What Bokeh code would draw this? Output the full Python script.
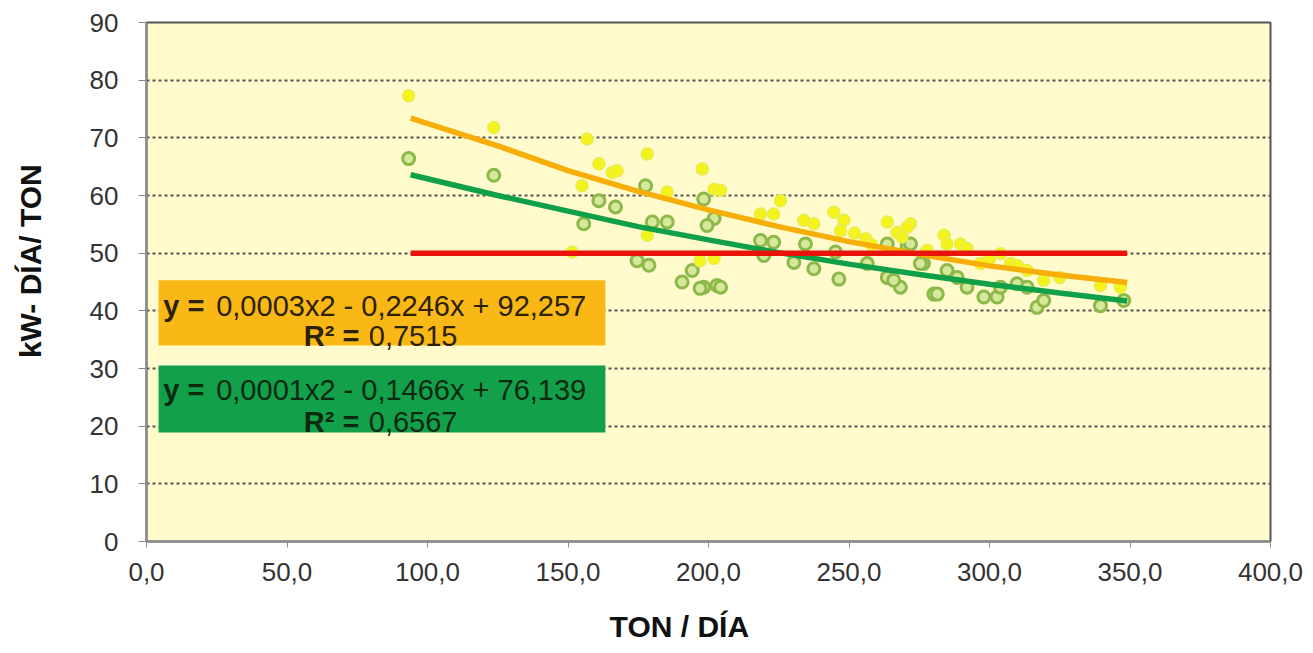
from bokeh.plotting import figure
from bokeh.models import BoxAnnotation, Label, FixedTicker, Range1d
from bokeh.embed import file_html
from bokeh.resources import INLINE

# ---------------- data ----------------
yellow_x = [93.3, 123.6, 156.8, 178.2, 161.0, 165.7, 167.5, 155.0, 197.8, 185.3,
            202.0, 178.2, 197.0, 202.0, 151.5, 204.3, 225.6, 218.5, 223.2, 233.9,
            237.5, 244.6, 248.2, 247.0, 252.0, 256.0, 258.0, 263.6, 267.1, 271.9,
            268.9, 270.7, 283.8, 289.7, 296.8, 307.5, 313.4, 319.3, 339.5, 346.6,
            277.8, 284.9, 304.0, 292.0, 300.0, 310.0, 325.0]
yellow_y = [77.3, 71.8, 69.8, 67.2, 65.5, 64.0, 64.3, 61.7, 64.6, 60.6,
            61.1, 53.1, 48.7, 49.1, 50.2, 60.9, 59.1, 56.8, 56.8, 55.7,
            55.1, 57.1, 55.7, 53.9, 53.5, 52.5, 51.5, 55.4, 53.6, 55.1,
            52.8, 54.5, 53.1, 51.6, 48.2, 48.2, 47.0, 45.3, 44.4, 44.1,
            50.5, 51.6, 49.9, 50.8, 49.0, 47.8, 45.8]

green_x = [93.3, 123.6, 177.6, 161.0, 166.9, 155.6, 180.0, 185.3, 198.3, 202.0,
           199.5, 174.6, 178.8, 194.2, 190.6, 198.3, 203.0, 197.0, 204.3, 218.5,
           223.2, 219.7, 234.5, 230.4, 237.5, 246.4, 245.2, 256.5, 263.6, 270.7,
           263.6, 268.3, 265.9, 280.2, 276.5, 271.9, 281.4, 275.4, 284.9, 292.0,
           298.0, 302.7, 303.9, 309.8, 316.9, 319.3, 339.5, 347.8, 288.5, 313.4]
green_y = [66.4, 63.5, 61.7, 59.1, 58.0, 55.1, 55.4, 55.4, 59.4, 56.0,
           54.8, 48.7, 47.9, 47.0, 45.0, 44.1, 44.4, 43.9, 44.1, 52.2,
           51.9, 49.6, 51.6, 48.4, 47.3, 45.5, 50.2, 48.2, 51.6, 51.3,
           45.8, 44.1, 45.3, 42.9, 48.2, 51.6, 42.9, 48.2, 47.0, 44.1,
           42.4, 42.4, 44.1, 44.7, 40.6, 41.8, 40.9, 41.8, 45.8, 44.1]

# trend lines
trend_x = [94, 125, 150, 175, 200, 225, 250, 275, 300, 325, 349]
orange_trend_y = [73.4, 68.6, 64.3, 60.7, 57.5, 54.6, 52.0, 49.8, 47.8, 46.2, 44.9]
green_trend_y = [63.6, 60.0, 57.3, 54.6, 52.3, 50.1, 48.1, 46.3, 44.6, 43.1, 41.7]

limit_x = [94, 349]
limit_y = [50, 50]

x_ticks = [0, 50, 100, 150, 200, 250, 300, 350, 400]
x_tick_labels = ["0,0", "50,0", "100,0", "150,0", "200,0", "250,0", "300,0", "350,0", "400,0"]
y_ticks = [0, 10, 20, 30, 40, 50, 60, 70, 80, 90]

orange_eq = ("y =", "0,0003x2 - 0,2246x + 92,257", "R² =", "0,7515")
green_eq = ("y =", "0,0001x2 - 0,1466x + 76,139", "R² =", "0,6567")

x_title = "TON / DÍA"
y_title = "kW- DÍA/ TON"

# ---------------- figure ----------------
FONT = "Liberation Sans"
W, H = 1305, 653
p = figure(width=W, height=H, output_backend="svg", toolbar_location=None,
           x_range=Range1d(0, 400), y_range=Range1d(0, 90))
p.min_border_left = 146
p.min_border_right = W - 1270
p.min_border_top = 22
p.min_border_bottom = H - 541
p.background_fill_color = "#FFFBCD"
p.border_fill_color = "white"
p.outline_line_color = "#555555"
p.outline_line_width = 2

p.xgrid.visible = False
p.ygrid.grid_line_color = "#555555"
p.ygrid.grid_line_width = 2
p.ygrid.grid_line_dash = "3 3"

p.xaxis.ticker = FixedTicker(ticks=x_ticks)
p.xaxis.major_label_overrides = {t: l for t, l in zip(x_ticks, x_tick_labels)}
p.yaxis.ticker = FixedTicker(ticks=y_ticks)
p.yaxis.major_label_overrides = {t: str(t) for t in y_ticks}
for ax in (p.xaxis[0], p.yaxis[0]):
    ax.axis_line_color = "#8a8a8a"
    ax.axis_line_width = 2
    ax.major_tick_line_color = "#8a8a8a"
    ax.major_tick_line_width = 1
    ax.major_tick_in = 0
    ax.minor_tick_line_color = None
    ax.major_label_text_font = FONT
    ax.major_label_text_font_size = "26px"
    ax.major_label_text_color = "#333333"
    ax.axis_label_text_font = FONT
    ax.axis_label_text_font_size = "30px"
    ax.axis_label_text_font_style = "bold"
    ax.axis_label_text_color = "#111111"
p.xaxis.major_tick_out = 6
p.xaxis.major_label_standoff = 15
p.yaxis.major_tick_out = 8
p.yaxis.major_label_standoff = 20

# axis titles (non-breaking spaces shift the centred title like in the original)
NBSP = "\u00a0"
p.xaxis.axis_label = x_title + NBSP * 7
p.xaxis.axis_label_standoff = 26
p.yaxis.axis_label = NBSP * 5 + y_title
p.yaxis.axis_label_standoff = 40

# scatter
p.scatter(green_x, green_y, size=12, marker="circle", fill_color="#D6E89A",
          line_color="#8DB84A", line_width=3)
p.scatter(yellow_x, yellow_y, size=12, marker="circle", fill_color="#F4F41C",
          line_color="#E8EC50", line_width=1.5)

# trend lines and limit
p.line(trend_x, green_trend_y, line_color="#10A048", line_width=5.5)
p.line(trend_x, orange_trend_y, line_color="#F7AE08", line_width=5.5)
p.line(limit_x, limit_y, line_color="#E8140C", line_width=5.5)

# equation boxes
p.add_layout(BoxAnnotation(left=4.3, right=163.3, top=45.3, bottom=34.0,
                           fill_color="#FAB817", fill_alpha=1, line_color=None))
p.add_layout(BoxAnnotation(left=4.3, right=163.3, top=30.5, bottom=18.9,
                           fill_color="#13A04A", fill_alpha=1, line_color=None))

def eq_labels(texts, y1, y2, color):
    b1, r1, b2, r2 = texts
    common = dict(text_font=FONT, text_font_size="29px", text_color=color,
                  text_baseline="alphabetic", text_align="left")
    p.add_layout(Label(x=6.0, y=y1, text=b1, text_font_style="bold", **common))
    p.add_layout(Label(x=24.8, y=y1, text=r1, **common))
    p.add_layout(Label(x=56.0, y=y2, text=b2, text_font_style="bold", **common))
    p.add_layout(Label(x=79.1, y=y2, text=r2, **common))

eq_labels(orange_eq, 40.9, 35.7, "#2a2200")
eq_labels(green_eq, 26.2, 20.7, "#0a2a10")

open("out.html", "w").write(file_html(p, INLINE))
